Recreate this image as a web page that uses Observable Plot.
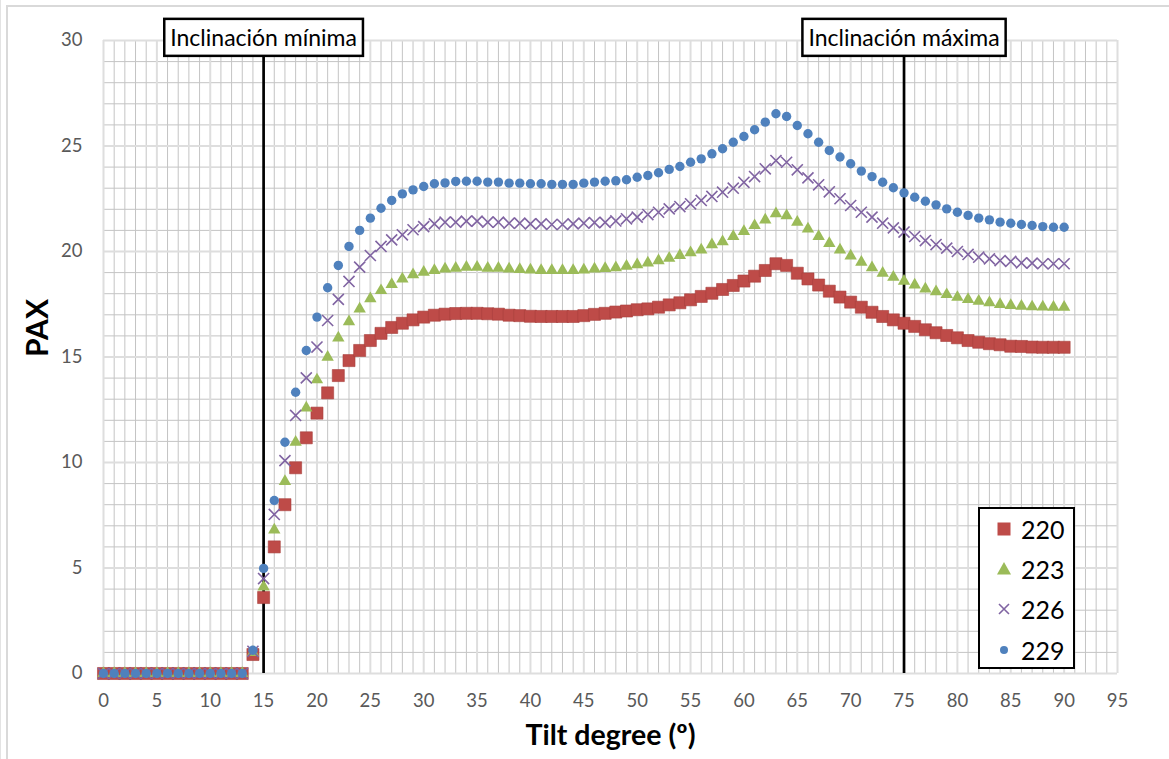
<!DOCTYPE html>
<html>
<head>
<meta charset="utf-8">
<script src="https://cdn.jsdelivr.net/npm/d3@7"></script>
<script src="https://cdn.jsdelivr.net/npm/@observablehq/plot@0.6"></script>
<style>
  html, body { margin: 0; padding: 0; background: #fff; }
  #wrap { position: relative; width: 1169px; height: 759px; overflow: hidden; font-family: Lato, "Open Sans", sans-serif; }
  #area { position: absolute; left: 6px; top: 5px; width: 1300px; height: 900px; border-top: 2px solid #d9d9d9; border-left: 2px solid #d9d9d9; pointer-events: none; }
  #edge { position: absolute; left: 0; top: 0; width: 1px; height: 759px; background: #e3e3e3; }
  #legend { position: absolute; left: 978px; top: 507px; width: 97px; height: 162px; box-sizing: border-box; border: 2px solid #000; background: #fff; }
  .li { position: absolute; left: 0; height: 30px; display: flex; align-items: center; }
  .li svg { width: 20px; height: 20px; margin-left: 14px; }
  .li span { margin-left: 7px; font-size: 25px; color: #000; font-family: Lato, sans-serif; }
</style>
</head>
<body>
<div id="wrap"><div id="edge"></div><div id="area"></div></div>
<script>
// ---- data ----
const tilt = [0,1,2,3,4,5,6,7,8,9,10,11,12,13,14,15,16,17,18,19,20,21,22,23,24,25,26,27,28,29,30,31,32,33,34,35,36,37,38,39,40,41,42,43,44,45,46,47,48,49,50,51,52,53,54,55,56,57,58,59,60,61,62,63,64,65,66,67,68,69,70,71,72,73,74,75,76,77,78,79,80,81,82,83,84,85,86,87,88,89,90];

const pax220 = [0,0,0,0,0,0,0,0,0,0,0,0,0,0,0.9,3.6,6.0,8.0,9.75,11.17,12.34,13.3,14.12,14.83,15.31,15.78,16.12,16.4,16.6,16.76,16.89,16.98,17.03,17.06,17.07,17.07,17.05,17.03,16.98,16.96,16.93,16.92,16.92,16.92,16.92,16.96,17.02,17.07,17.13,17.18,17.24,17.28,17.36,17.47,17.57,17.71,17.87,18.02,18.2,18.39,18.6,18.83,19.1,19.42,19.34,18.97,18.7,18.41,18.12,17.84,17.6,17.36,17.12,16.92,16.76,16.6,16.45,16.29,16.15,16.02,15.91,15.78,15.7,15.63,15.58,15.51,15.5,15.47,15.46,15.46,15.46];

const pax223 = [0,0,0,0,0,0,0,0,0,0,0,0,0,0,1.0,4.1,6.8,9.1,10.96,12.59,13.92,14.99,15.91,16.68,17.28,17.76,18.15,18.44,18.7,18.9,19.02,19.1,19.18,19.21,19.26,19.26,19.21,19.21,19.18,19.15,19.13,19.1,19.1,19.1,19.1,19.13,19.18,19.2,19.23,19.3,19.38,19.46,19.57,19.68,19.81,19.94,20.08,20.32,20.47,20.72,20.95,21.23,21.5,21.79,21.7,21.39,21.07,20.71,20.38,20.08,19.79,19.49,19.23,18.97,18.78,18.59,18.42,18.23,18.1,17.96,17.83,17.73,17.65,17.57,17.49,17.44,17.41,17.38,17.37,17.36,17.36];

const pax226 = [0,0,0,0,0,0,0,0,0,0,0,0,0,0,1.05,4.5,7.54,10.09,12.23,14.01,15.47,16.73,17.73,18.58,19.26,19.81,20.24,20.55,20.79,21.03,21.18,21.31,21.39,21.39,21.44,21.44,21.39,21.39,21.34,21.34,21.31,21.31,21.28,21.28,21.31,21.34,21.37,21.38,21.45,21.55,21.63,21.75,21.86,22.02,22.13,22.26,22.42,22.61,22.81,23.0,23.28,23.55,23.92,24.31,24.23,23.87,23.49,23.16,22.83,22.5,22.18,21.86,21.63,21.34,21.12,20.92,20.71,20.52,20.33,20.16,20.0,19.86,19.73,19.65,19.57,19.53,19.46,19.45,19.42,19.42,19.42];

const pax229 = [0,0,0,0,0,0,0,0,0,0,0,0,0,0,1.1,4.98,8.2,10.96,13.33,15.31,16.89,18.28,19.34,20.24,21.0,21.58,22.05,22.42,22.73,22.92,23.08,23.21,23.25,23.32,23.33,23.33,23.29,23.29,23.24,23.24,23.21,23.21,23.18,23.18,23.18,23.24,23.29,23.33,23.35,23.4,23.52,23.6,23.73,23.89,24.03,24.23,24.39,24.63,24.87,25.18,25.45,25.77,26.13,26.53,26.4,25.97,25.58,25.18,24.79,24.48,24.16,23.81,23.55,23.28,23.02,22.78,22.57,22.38,22.21,22.02,21.86,21.71,21.58,21.5,21.39,21.34,21.28,21.23,21.18,21.15,21.15];

const seriesNames = ["220", "223", "226", "229"];
const xTicks = [0,5,10,15,20,25,30,35,40,45,50,55,60,65,70,75,80,85,90,95];
const yTicks = [0,5,10,15,20,25,30];
const markerLines = [15, 75];
const markerLabels = ["Inclinación mínima", "Inclinación máxima"];
const xTitle = "Tilt degree (º)";
const yTitle = "PAX";

// ---- build ----
const colors = { "220": "#BE4B48", "223": "#9BBB59", "226": "#8064A2", "229": "#4F81BD" };
const toRows = (vals) => vals.map((v, i) => ({ x: tilt[i], y: v }));
const r220 = toRows(pax220), r223 = toRows(pax223), r226 = toRows(pax226), r229 = toRows(pax229);
const annotations = markerLines.map((x, i) => ({ x, label: markerLabels[i] }));

const minorX = d3.range(0, 96).filter(d => d % 5 !== 0);
const minorY = d3.range(0, 31).filter(d => d % 5 !== 0);

const chart = Plot.plot({
  width: 1169,
  height: 759,
  marginLeft: 103,
  marginRight: 52,
  marginTop: 40,
  marginBottom: 86,
  style: { fontFamily: "Lato, 'Open Sans', sans-serif", background: "transparent", overflow: "visible" },
  x: { domain: [0, 95] },
  y: { domain: [0, 30] },
  marks: [
    Plot.ruleX(minorX, { stroke: "#c4c4c4", strokeWidth: 1 }),
    Plot.ruleY(minorY, { stroke: "#c4c4c4", strokeWidth: 1 }),
    Plot.ruleX(xTicks, { stroke: "#dedede", strokeWidth: 2 }),
    Plot.ruleY(yTicks, { stroke: "#dedede", strokeWidth: 2 }),
    Plot.axisX(xTicks, { tickSize: 0, tickPadding: 20, fontSize: 18.5, color: "#595959", label: null, tickFormat: d => String(d) }),
    Plot.axisY(yTicks, { tickSize: 0, tickPadding: 21, fontSize: 18.5, color: "#595959", label: null, tickFormat: d => String(d) }),
    Plot.ruleX(markerLines, { y1: 0, y2: 30, stroke: "#000", strokeWidth: 2.7 }),
    Plot.dot(r220, { x: "x", y: "y", symbol: "square", r: 6.8, fill: colors["220"], stroke: "#A8403D", strokeWidth: 0.6 }),
    Plot.dot(r223, { x: "x", y: "y", symbol: "triangle", r: 4.6, fill: colors["223"] }),
    Plot.dot(r226, { x: "x", y: "y", symbol: "times", r: 5.1, stroke: colors["226"], strokeWidth: 1.6, fill: "none" }),
    Plot.dot(r229, { x: "x", y: "y", symbol: "circle", r: 4.7, fill: colors["229"] }),
    Plot.text([xTitle], { frameAnchor: "bottom", dy: 71, fontSize: 28.5, fontWeight: "bold", fill: "#000" }),
    Plot.text([yTitle], { frameAnchor: "left", dx: -65, rotate: -90, fontSize: 30, fontWeight: "bold", fill: "#000" }),
    Plot.text(annotations, { x: "x", text: "label", frameAnchor: "top", dy: -1.5, lineAnchor: "middle", fontSize: 23, fill: "#000" })
  ]
});

const wrap = document.getElementById("wrap");
chart.style.position = "absolute";
chart.style.left = "0px";
chart.style.top = "0px";
wrap.appendChild(chart);

// boxes behind the marker labels
const ns = "http://www.w3.org/2000/svg";
chart.querySelectorAll("text").forEach(t => {
  if (!markerLabels.includes(t.textContent)) return;
  const b = t.getBBox();
  const g = t.parentNode;
  const rect = document.createElementNS(ns, "rect");
  const padX = 6, h = 37;
  rect.setAttribute("x", b.x - padX);
  rect.setAttribute("y", (b.y + b.height / 2) - h / 2);
  rect.setAttribute("width", b.width + 2 * padX);
  rect.setAttribute("height", h);
  rect.setAttribute("fill", "#fff");
  rect.setAttribute("stroke", "#000");
  rect.setAttribute("stroke-width", 2.5);
  const tr = t.getAttribute("transform");
  if (tr) rect.setAttribute("transform", tr);
  g.insertBefore(rect, t);
});

// legend
const legend = document.createElement("div");
legend.id = "legend";
const icons = {
  "220": `<rect x="3.5" y="3.5" width="13" height="13" fill="${colors["220"]}"/>`,
  "223": `<path d="M10 3 L17 15.5 L3 15.5 Z" fill="${colors["223"]}"/>`,
  "226": `<path d="M5 5 L15 15 M15 5 L5 15" stroke="${colors["226"]}" stroke-width="1.6"/>`,
  "229": `<circle cx="10" cy="10" r="4" fill="${colors["229"]}"/>`
};
const rowTops = [5, 45, 85, 126];
seriesNames.forEach((name, i) => {
  const li = document.createElement("div");
  li.className = "li";
  li.style.top = rowTops[i] + "px";
  li.innerHTML = `<svg viewBox="0 0 20 20">${icons[name]}</svg><span>${name}</span>`;
  legend.appendChild(li);
});
wrap.appendChild(legend);
</script>
</body>
</html>
